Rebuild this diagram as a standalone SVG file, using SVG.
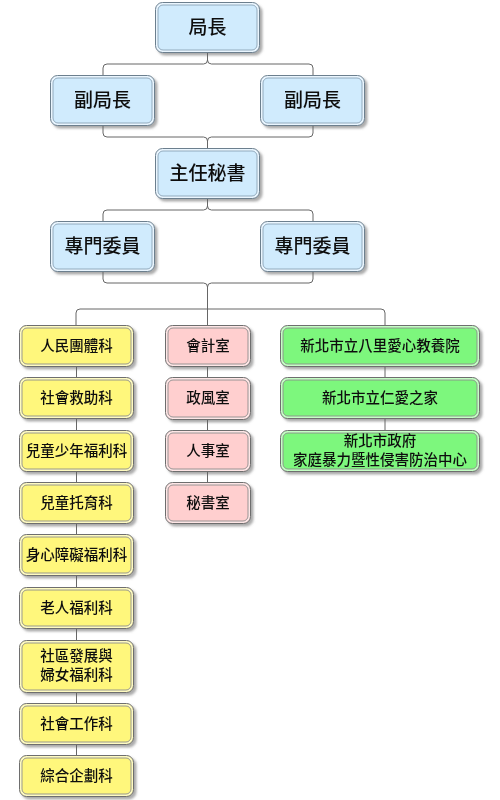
<svg xmlns="http://www.w3.org/2000/svg" width="500" height="800" viewBox="0 0 500 800">
<defs>
<filter id="sh" x="-10%" y="-10%" width="130%" height="140%">
<feDropShadow dx="2.5" dy="2.5" stdDeviation="1" flood-color="#666" flood-opacity="0.55"/>
</filter>
<style>
.o{stroke:#6e6e6e;stroke-width:1}
.i{stroke:#8c8c8c;stroke-width:0.9}
.blue .o{fill:#eaf6ff;stroke:#6c7f8e}
.blue .i{fill:#d0ebfd;stroke:#8aa3b5}
.yel .o{fill:#fffbc0}
.yel .i{fill:#fff77c}
.pink .o{fill:#ffe6e6}
.pink .i{fill:#ffcfcf}
.grn .o{fill:#c4ffc4}
.grn .i{fill:#7df77d}
text{font-family:"Noto Sans CJK TC","Noto Sans CJK SC",sans-serif;font-weight:500;fill:#111;text-anchor:middle}
.big{font-size:19px}
.sm{font-size:14.5px}
#conn path{fill:none;stroke:#666;stroke-width:1}
</style>
</defs>
<rect width="500" height="800" fill="#fff"/>
<g id="conn">
<path d="M207.5,53 V60 Q207.5,64 203.5,64 H107 Q103,64 103,68 V75"/>
<path d="M207.5,60 Q207.5,64 211.5,64 H309 Q313,64 313,68 V75"/>
<path d="M103,126 V133 Q103,137 107,137 H203.5 Q207.5,137 207.5,141 V148"/>
<path d="M313,126 V133 Q313,137 309,137 H211.5 Q207.5,137 207.5,141"/>
<path d="M207.5,199 V206 Q207.5,210 203.5,210 H107 Q103,210 103,214 V221"/>
<path d="M207.5,206 Q207.5,210 211.5,210 H309 Q313,210 313,214 V221"/>
<path d="M103,272 V279 Q103,283 107,283 H203.5 Q207.5,283 207.5,287 V325"/>
<path d="M313,272 V279 Q313,283 309,283 H211.5 Q207.5,283 207.5,287"/>
<path d="M76,325 V313 Q76,309 80,309 H381 Q385,309 385,313 V325"/>
<path d="M76.5,366 V755"/>
<path d="M207.5,366 V483"/>
<path d="M385,366 V431"/>
</g>
<g id="n1" class="blue" filter="url(#sh)"><rect class="o" x="155.5" y="2.5" width="104" height="50" rx="7"/><rect class="i" x="158" y="5" width="99" height="45" rx="5"/><text class="big" x="207.5" y="34">局長</text></g>
<g id="n2" class="blue" filter="url(#sh)"><rect class="o" x="50.5" y="75.5" width="104" height="50" rx="7"/><rect class="i" x="53" y="78" width="99" height="45" rx="5"/><text class="big" x="102.5" y="107">副局長</text></g>
<g id="n3" class="blue" filter="url(#sh)"><rect class="o" x="260.5" y="75.5" width="104" height="50" rx="7"/><rect class="i" x="263" y="78" width="99" height="45" rx="5"/><text class="big" x="312.5" y="107">副局長</text></g>
<g id="n4" class="blue" filter="url(#sh)"><rect class="o" x="155.5" y="148.5" width="104" height="50" rx="7"/><rect class="i" x="158" y="151" width="99" height="45" rx="5"/><text class="big" x="207.5" y="180">主任秘書</text></g>
<g id="n5" class="blue" filter="url(#sh)"><rect class="o" x="50.5" y="221.5" width="104" height="50" rx="7"/><rect class="i" x="53" y="224" width="99" height="45" rx="5"/><text class="big" x="102.5" y="253">專門委員</text></g>
<g id="n6" class="blue" filter="url(#sh)"><rect class="o" x="260.5" y="221.5" width="104" height="50" rx="7"/><rect class="i" x="263" y="224" width="99" height="45" rx="5"/><text class="big" x="312.5" y="253">專門委員</text></g>

<g id="y1" class="yel" filter="url(#sh)"><rect class="o" x="19.5" y="325.5" width="114" height="41" rx="7"/><rect class="i" x="22" y="328" width="109" height="36" rx="5"/><text class="sm" x="76.5" y="351">人民團體科</text></g>
<g id="y2" class="yel" filter="url(#sh)"><rect class="o" x="19.5" y="377.5" width="114" height="41" rx="7"/><rect class="i" x="22" y="380" width="109" height="36" rx="5"/><text class="sm" x="76.5" y="403">社會救助科</text></g>
<g id="y3" class="yel" filter="url(#sh)"><rect class="o" x="19.5" y="430.5" width="114" height="41" rx="7"/><rect class="i" x="22" y="433" width="109" height="36" rx="5"/><text class="sm" x="76.5" y="456">兒童少年福利科</text></g>
<g id="y4" class="yel" filter="url(#sh)"><rect class="o" x="19.5" y="482.5" width="114" height="41" rx="7"/><rect class="i" x="22" y="485" width="109" height="36" rx="5"/><text class="sm" x="76.5" y="508">兒童托育科</text></g>
<g id="y5" class="yel" filter="url(#sh)"><rect class="o" x="19.5" y="534.5" width="114" height="41" rx="7"/><rect class="i" x="22" y="537" width="109" height="36" rx="5"/><text class="sm" x="76.5" y="560">身心障礙福利科</text></g>
<g id="y6" class="yel" filter="url(#sh)"><rect class="o" x="19.5" y="587.5" width="114" height="41" rx="7"/><rect class="i" x="22" y="590" width="109" height="36" rx="5"/><text class="sm" x="76.5" y="613">老人福利科</text></g>
<g id="y7" class="yel" filter="url(#sh)"><rect class="o" x="19.5" y="640.5" width="114" height="52" rx="7"/><rect class="i" x="22" y="643" width="109" height="47" rx="5"/><text class="sm" x="76.5" y="661">社區發展與</text><text class="sm" x="76.5" y="680">婦女福利科</text></g>
<g id="y8" class="yel" filter="url(#sh)"><rect class="o" x="19.5" y="703.5" width="114" height="41" rx="7"/><rect class="i" x="22" y="706" width="109" height="36" rx="5"/><text class="sm" x="76.5" y="729">社會工作科</text></g>
<g id="y9" class="yel" filter="url(#sh)"><rect class="o" x="19.5" y="755.5" width="114" height="41" rx="7"/><rect class="i" x="22" y="758" width="109" height="36" rx="5"/><text class="sm" x="76.5" y="781">綜合企劃科</text></g>

<g id="p1" class="pink" filter="url(#sh)"><rect class="o" x="165.5" y="325.5" width="85" height="41" rx="7"/><rect class="i" x="168" y="328" width="80" height="36" rx="5"/><text class="sm" x="208" y="351">會計室</text></g>
<g id="p2" class="pink" filter="url(#sh)"><rect class="o" x="165.5" y="377.5" width="85" height="42" rx="7"/><rect class="i" x="168" y="380" width="80" height="37" rx="5"/><text class="sm" x="208" y="403">政風室</text></g>
<g id="p3" class="pink" filter="url(#sh)"><rect class="o" x="165.5" y="430.5" width="85" height="41" rx="7"/><rect class="i" x="168" y="433" width="80" height="36" rx="5"/><text class="sm" x="208" y="456">人事室</text></g>
<g id="p4" class="pink" filter="url(#sh)"><rect class="o" x="165.5" y="482.5" width="85" height="41" rx="7"/><rect class="i" x="168" y="485" width="80" height="36" rx="5"/><text class="sm" x="208" y="508">秘書室</text></g>

<g id="g1" class="grn" filter="url(#sh)"><rect class="o" x="280.5" y="325.5" width="199" height="41" rx="7"/><rect class="i" x="283" y="328" width="194" height="36" rx="5"/><text class="sm" x="380" y="351">新北市立八里愛心教養院</text></g>
<g id="g2" class="grn" filter="url(#sh)"><rect class="o" x="280.5" y="377.5" width="199" height="41" rx="7"/><rect class="i" x="283" y="380" width="194" height="36" rx="5"/><text class="sm" x="380" y="403">新北市立仁愛之家</text></g>
<g id="g3" class="grn" filter="url(#sh)"><rect class="o" x="280.5" y="430.5" width="199" height="41" rx="7"/><rect class="i" x="283" y="433" width="194" height="36" rx="5"/><text class="sm" x="380" y="446">新北市政府</text><text class="sm" x="380" y="465">家庭暴力暨性侵害防治中心</text></g>
</svg>
